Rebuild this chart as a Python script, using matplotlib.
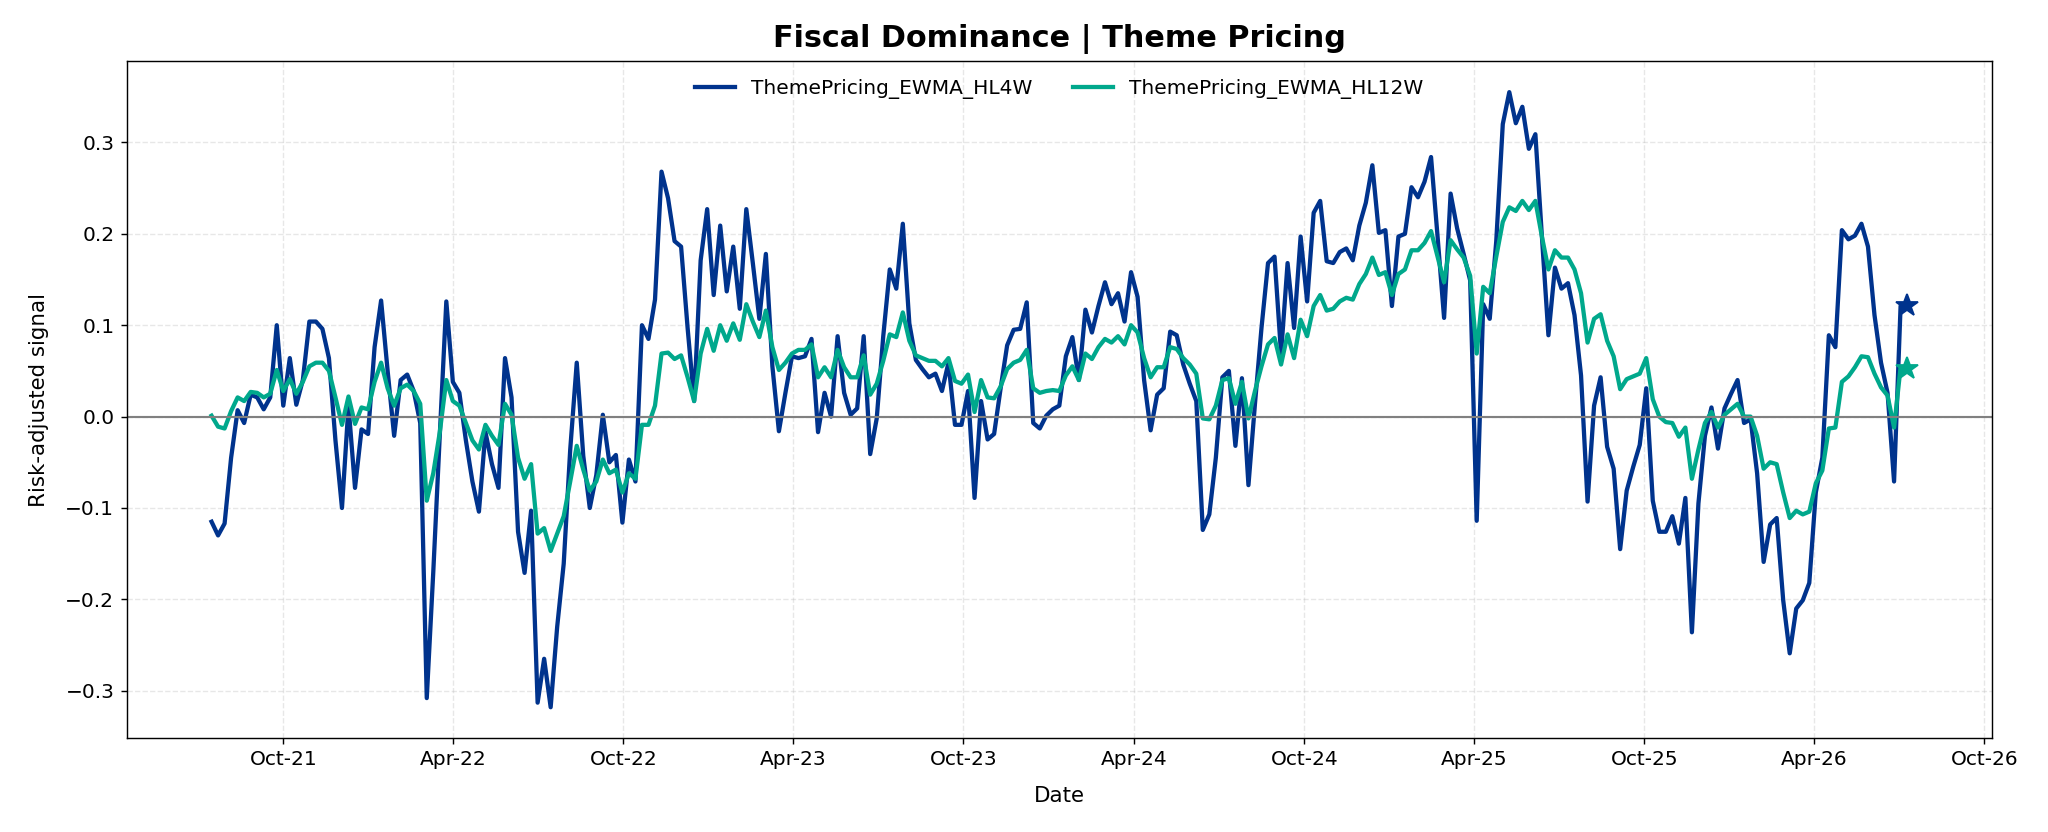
import matplotlib
matplotlib.use('Agg')
import matplotlib.pyplot as plt
import matplotlib.dates as mdates
import pandas as pd

dates = pd.date_range('2021-07-16', periods=261, freq='7D')

hl4w = [
    -0.115, -0.130, -0.117, -0.045, 0.007, -0.007, 0.024, 0.021, 0.008, 0.021,
    0.100, 0.012, 0.064, 0.013, 0.040, 0.104, 0.104, 0.096, 0.064, -0.026,
    -0.100, 0.012, -0.078, -0.014, -0.019, 0.076, 0.127, 0.050, -0.021, 0.040,
    0.046, 0.028, -0.007, -0.308, -0.170, -0.020, 0.126, 0.038, 0.026, -0.026,
    -0.071, -0.104, -0.017, -0.052, -0.078, 0.064, 0.021, -0.126, -0.171, -0.103,
    -0.313, -0.265, -0.318, -0.230, -0.161, -0.036, 0.059, -0.043, -0.100, -0.064,
    0.002, -0.050, -0.042, -0.116, -0.047, -0.071, 0.100, 0.085, 0.128, 0.268,
    0.239, 0.192, 0.186, 0.097, 0.017, 0.171, 0.227, 0.133, 0.209, 0.137,
    0.186, 0.118, 0.227, 0.168, 0.107, 0.178, 0.055, -0.016, 0.026, 0.066,
    0.064, 0.066, 0.085, -0.017, 0.026, 0.000, 0.088, 0.026, 0.002, 0.009,
    0.088, -0.041, -0.002, 0.088, 0.161, 0.140, 0.211, 0.102, 0.062, 0.052,
    0.043, 0.047, 0.028, 0.059, -0.009, -0.009, 0.028, -0.089, 0.017, -0.025,
    -0.019, 0.031, 0.078, 0.095, 0.096, 0.125, -0.007, -0.013, 0.001, 0.008,
    0.012, 0.066, 0.087, 0.040, 0.117, 0.092, 0.121, 0.147, 0.123, 0.135,
    0.104, 0.158, 0.131, 0.040, -0.015, 0.024, 0.031, 0.093, 0.089, 0.057,
    0.036, 0.017, -0.124, -0.107, -0.045, 0.043, 0.050, -0.032, 0.042, -0.075,
    0.014, 0.097, 0.168, 0.175, 0.069, 0.168, 0.097, 0.197, 0.126, 0.223,
    0.236, 0.170, 0.168, 0.180, 0.184, 0.171, 0.209, 0.234, 0.275, 0.201,
    0.204, 0.121, 0.197, 0.200, 0.251, 0.240, 0.257, 0.284, 0.197, 0.108,
    0.244, 0.206, 0.178, 0.149, -0.114, 0.123, 0.107, 0.192, 0.320, 0.355,
    0.321, 0.339, 0.293, 0.309, 0.197, 0.089, 0.163, 0.140, 0.146, 0.111,
    0.045, -0.093, 0.012, 0.043, -0.033, -0.057, -0.145, -0.081, -0.055, -0.031,
    0.031, -0.092, -0.126, -0.126, -0.109, -0.139, -0.089, -0.236, -0.095, -0.021,
    0.010, -0.035, 0.009, 0.025, 0.040, -0.007, -0.003, -0.062, -0.159, -0.118,
    -0.111, -0.201, -0.259, -0.210, -0.201, -0.182, -0.083, -0.045, 0.089, 0.076,
    0.204, 0.194, 0.198, 0.211, 0.186, 0.111, 0.059, 0.026, -0.071, 0.121,
    0.121,
]

hl12w = [
    0.001, -0.011, -0.013, 0.006, 0.021, 0.017, 0.027, 0.026, 0.021, 0.025,
    0.051, 0.028, 0.041, 0.025, 0.038, 0.055, 0.059, 0.059, 0.050, 0.021,
    -0.009, 0.022, -0.008, 0.010, 0.008, 0.038, 0.059, 0.031, 0.012, 0.031,
    0.035, 0.028, 0.014, -0.092, -0.062, -0.017, 0.040, 0.017, 0.012, -0.007,
    -0.026, -0.036, -0.009, -0.021, -0.031, 0.014, 0.002, -0.045, -0.068, -0.052,
    -0.128, -0.122, -0.147, -0.128, -0.109, -0.071, -0.032, -0.058, -0.081, -0.071,
    -0.047, -0.062, -0.058, -0.083, -0.062, -0.068, -0.009, -0.009, 0.012, 0.069,
    0.070, 0.063, 0.067, 0.043, 0.017, 0.069, 0.096, 0.072, 0.100, 0.083,
    0.102, 0.084, 0.123, 0.104, 0.087, 0.116, 0.076, 0.051, 0.059, 0.069,
    0.073, 0.073, 0.079, 0.043, 0.054, 0.043, 0.073, 0.054, 0.043, 0.043,
    0.067, 0.024, 0.036, 0.061, 0.090, 0.087, 0.114, 0.083, 0.067, 0.064,
    0.061, 0.061, 0.055, 0.064, 0.039, 0.036, 0.046, 0.005, 0.040, 0.021,
    0.020, 0.033, 0.052, 0.059, 0.062, 0.073, 0.031, 0.026, 0.028, 0.029,
    0.028, 0.045, 0.055, 0.040, 0.069, 0.063, 0.076, 0.085, 0.081, 0.088,
    0.079, 0.100, 0.092, 0.064, 0.043, 0.054, 0.054, 0.076, 0.074, 0.064,
    0.057, 0.047, -0.002, -0.003, 0.012, 0.040, 0.042, 0.014, 0.038, -0.002,
    0.028, 0.055, 0.079, 0.086, 0.057, 0.090, 0.064, 0.106, 0.088, 0.121,
    0.133, 0.116, 0.118, 0.126, 0.130, 0.128, 0.145, 0.156, 0.174, 0.155,
    0.158, 0.133, 0.156, 0.161, 0.182, 0.182, 0.190, 0.203, 0.175, 0.147,
    0.193, 0.183, 0.174, 0.154, 0.069, 0.142, 0.135, 0.175, 0.213, 0.229,
    0.225, 0.236, 0.226, 0.236, 0.197, 0.161, 0.182, 0.174, 0.174, 0.161,
    0.135, 0.081, 0.107, 0.112, 0.083, 0.066, 0.030, 0.041, 0.044, 0.047,
    0.064, 0.019, 0.000, -0.006, -0.007, -0.022, -0.012, -0.068, -0.036, -0.007,
    0.005, -0.012, 0.002, 0.008, 0.014, 0.000, 0.000, -0.021, -0.057, -0.050,
    -0.052, -0.083, -0.111, -0.103, -0.107, -0.104, -0.073, -0.059, -0.013, -0.012,
    0.038, 0.044, 0.054, 0.066, 0.065, 0.047, 0.032, 0.023, -0.012, 0.054,
    0.052,
]

names = ['ThemePricing_EWMA_HL4W', 'ThemePricing_EWMA_HL12W']
colors = ['#00338D', '#00A88C']

fig, ax = plt.subplots(figsize=(16, 6.5), dpi=128)
fig.subplots_adjust(left=0.0619, right=0.9726, top=0.9262, bottom=0.113)

for vals, name, c in zip([hl4w, hl12w], names, colors):
    ax.plot(dates, vals, color=c, lw=2.4, label=name)
    # star on the latest reading
    ax.plot(dates[-1], vals[-1], marker='*', ms=13, color=c)

ax.axhline(0, color='gray', lw=1.2)
ax.grid(True, linestyle='--', alpha=0.3)

ax.xaxis.set_major_locator(mdates.MonthLocator(bymonth=[4, 10]))
ax.xaxis.set_major_formatter(mdates.DateFormatter('%b-%y'))
ax.tick_params(labelsize=11.3)

ax.set_title('Fiscal Dominance | Theme Pricing', fontsize=17, fontweight='bold', pad=8)
ax.set_xlabel('Date', fontsize=12, labelpad=9.5)
ax.set_ylabel('Risk-adjusted signal', fontsize=12, labelpad=9)
ax.legend(loc='upper center', ncol=2, frameon=False, fontsize=11.3)

fig.savefig('out.png', dpi=128)
